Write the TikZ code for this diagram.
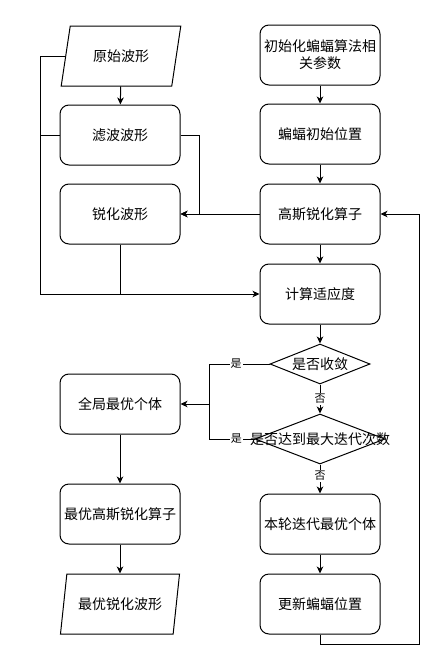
\documentclass[tikz,border=0pt]{standalone}
\usepackage{fontspec}
\setmainfont{Noto Sans CJK SC}
\usetikzlibrary{shapes.geometric,arrows.meta}

\begin{document}
\begin{tikzpicture}[x=1pt,y=-1pt,
    proc/.style={draw, rounded corners=9pt, line width=1pt, minimum width=120pt, minimum height=60pt,
        align=center, inner sep=1pt, font=\fontsize{14pt}{17pt}\selectfont},
    io/.style={draw, trapezium, trapezium left angle=71, trapezium right angle=109, trapezium stretches=true,
        line width=1pt, minimum width=120pt, minimum height=60pt, inner sep=1pt, font=\fontsize{14pt}{17pt}\selectfont},
    decision/.style={draw, diamond, line width=1pt, inner sep=0pt},
    dtext/.style={font=\fontsize{14pt}{17pt}\selectfont, inner sep=0pt},
    flow/.style={line width=1pt, -{Stealth[length=7pt,width=6.5pt,inset=2pt]}},
    link/.style={line width=1pt},
    yesno/.style={fill=white, inner sep=1pt, font=\fontsize{11pt}{13pt}\selectfont}]

    \useasboundingbox (0,0) rectangle (437,653);

    % Left column
    \node[io] (raw) at (121,56) {原始波形};
    \node[proc] (filt) at (120,135) {滤波波形};
    \node[proc] (sharp) at (120,214) {锐化波形};
    \node[proc] (gbest) at (120,404) {全局最优个体};
    \node[proc] (bestop) at (120,514) {最优高斯锐化算子};
    \node[io] (out) at (120,604) {最优锐化波形};

    % Right column
    \node[proc] (init) at (320,55) {初始化蝙蝠算法相\\关参数};
    \node[proc] (pos) at (320,134) {蝙蝠初始位置};
    \node[proc] (gauss) at (320,214) {高斯锐化算子};
    \node[proc] (fit) at (320,294) {计算适应度};
    \node[decision, minimum width=100pt, minimum height=40pt] (conv) at (320,364) {};
    \node[dtext] (convtxt) at (conv) {是否收敛};
    \node[decision, minimum width=130pt, minimum height=50pt] (maxit) at (320,439) {};
    \node[dtext] (maxittxt) at (maxit) {是否达到最大迭代次数};
    \node[proc] (cbest) at (320,524) {本轮迭代最优个体};
    \node[proc] (upd) at (320,604) {更新蝙蝠位置};

    % Bus points
    \coordinate (lbus) at (40,294);
    \coordinate (rbus) at (199,214);
    \coordinate (ybus) at (209,404);
    \coordinate (loop) at (419,644);

    % Main flow
    \draw[flow] (raw) -- (filt);
    \draw[flow] (init) -- (pos);
    \draw[flow] (pos) -- (gauss);
    \draw[flow] (gauss) -- (fit);
    \draw[flow] (fit) -- (conv);
    \draw[flow] (conv) -- node[yesno] {否} (maxit);
    \draw[flow] (maxit) -- node[yesno, pos=0.4] {否} (cbest);
    \draw[flow] (cbest) -- (upd);
    \draw[flow] (gbest) -- (bestop);
    \draw[flow] (bestop) -- (out);

    % Waveforms into fitness
    \draw[flow] (raw.west) -| (lbus) -- (fit.west);
    \draw[link] (filt.west) -- (filt.west -| lbus);
    \draw[link] (sharp.south) -- (sharp.south |- lbus);

    % Operator into sharpened waveform
    \draw[flow] (filt.east) -| (rbus) -- (sharp.east);
    \draw[flow] (gauss.west) -- (sharp.east);

    % Yes branches
    \draw[link] (conv.west) -- node[yesno, pos=0.55] {是} (conv.west -| ybus) -- (ybus);
    \draw[link] (maxit.west) -- node[yesno, pos=0.4] {是} (maxit.west -| ybus) -- (ybus);
    \draw[flow] (ybus) -- (gbest.east);

    % Loop back
    \draw[flow] (upd.south) |- (loop) |- (gauss.east);

\end{tikzpicture}
\end{document}
